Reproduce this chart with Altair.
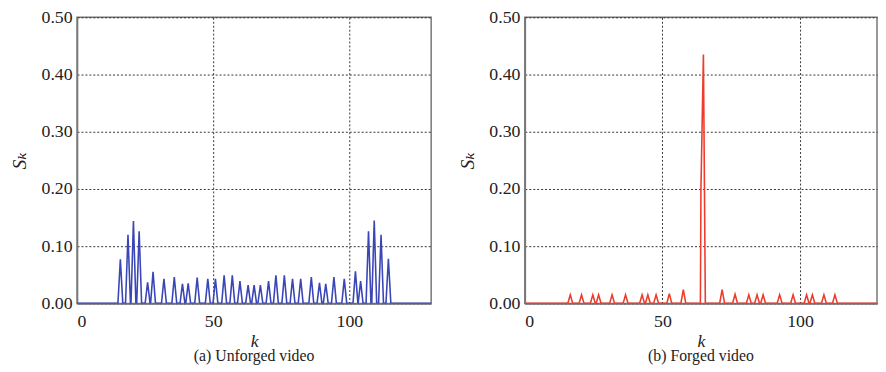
import altair as alt
import pandas as pd

# ---- data ----
# (a) Unforged video: spike positions k and heights S_k
k_a = [15.9, 18.7, 20.7, 22.8, 25.9, 27.9, 31.9, 35.7, 38.7, 40.8, 44.1, 48.0,
       50.8, 54.0, 57.0, 59.8, 62.8, 65.0, 67.3, 70.3, 73.0, 76.1, 79.1, 82.1,
       86.0, 89.0, 91.3, 94.3, 98.1, 102.2, 104.1, 107.0, 109.1, 111.6, 114.3]
s_a = [0.077, 0.120, 0.144, 0.126, 0.037, 0.055, 0.043, 0.046, 0.034, 0.035, 0.045, 0.043,
       0.043, 0.049, 0.049, 0.039, 0.032, 0.032, 0.032, 0.039, 0.049, 0.049, 0.043, 0.043,
       0.046, 0.036, 0.034, 0.046, 0.043, 0.056, 0.039, 0.126, 0.145, 0.120, 0.078]

# (b) Forged video: small spikes
k_b = [16.5, 20.6, 24.7, 26.8, 31.7, 36.6, 42.6, 44.7, 47.7, 52.5, 57.6,
       71.7, 76.4, 81.4, 84.4, 86.6, 92.6, 97.5, 102.4, 104.5, 108.7, 112.7]
s_b = [0.015, 0.015, 0.015, 0.015, 0.015, 0.015, 0.015, 0.015, 0.015, 0.017, 0.024,
       0.024, 0.016, 0.015, 0.015, 0.015, 0.015, 0.015, 0.015, 0.015, 0.015, 0.015]
# (b) the large spike near k = 65
big_k = [63.8, 64.0, 64.5, 64.9, 65.6]
big_s = [0.0, 0.20, 0.33, 0.435, 0.0]

y_ticks = [0.0, 0.1, 0.2, 0.3, 0.4, 0.5]
x_ticks = [0, 50, 100]

HALF = 0.9  # spike half-width (style)


def build(ks, ss, xmax, extra_k=None, extra_s=None):
    pts = [(0.0, 0.0)]
    spikes = [(k, [(k - HALF, 0.0), (k, s), (k + HALF, 0.0)]) for k, s in zip(ks, ss)]
    if extra_k:
        spikes.append((extra_k[0], list(zip(extra_k, extra_s))))
    spikes.sort(key=lambda t: t[0])
    for _, p in spikes:
        pts.extend(p)
    pts.append((xmax, 0.0))
    return pd.DataFrame({"k": [p[0] for p in pts], "s": [p[1] for p in pts],
                         "i": list(range(len(pts)))})


FONT = "Liberation Serif, DejaVu Serif, Times New Roman, serif"

AX = dict(labelFont=FONT, labelFontSize=18, labelColor="#222",
          titleFont=FONT, titleFontStyle="italic", titleFontWeight="normal",
          titleColor="#222", grid=True, gridColor="#333", gridDash=[2, 2],
          gridWidth=1, ticks=False, domainColor="#777", domainWidth=1.5)


def panel(df, color, caption, xmax, w):
    return alt.Chart(df).mark_line(color=color, strokeWidth=1.6, clip=True).encode(
        x=alt.X("k:Q", scale=alt.Scale(domain=[0, xmax], nice=False, zero=False),
                axis=alt.Axis(values=x_ticks, title="k", titlePadding=3, labelPadding=9,
                              format="d", titleFontSize=18, **AX)),
        y=alt.Y("s:Q", scale=alt.Scale(domain=[0, 0.5], nice=False),
                axis=alt.Axis(values=y_ticks, format=".2f", title="Sₖ",
                              titlePadding=12, labelPadding=5, titleFontSize=20, **AX)),
        order="i:Q",
    ).properties(
        width=w, height=290,
        title=alt.TitleParams(caption, orient="bottom", font=FONT, fontSize=16,
                              fontWeight="normal", color="#222", offset=-3),
    )


left = panel(build(k_a, s_a, 130), "#3a46b6", "(a) Unforged video", 130, 359)
right = panel(build(k_b, s_b, 128, big_k, big_s), "#ee3b2b", "(b) Forged video", 128, 357)

chart = alt.hconcat(left, right, spacing=24).properties(
    padding={"left": 0, "top": -3, "right": 0, "bottom": 0}
).configure_view(stroke="#777", strokeWidth=1.5)

chart.save("out.html", embed_options={"renderer": "svg", "actions": False})
